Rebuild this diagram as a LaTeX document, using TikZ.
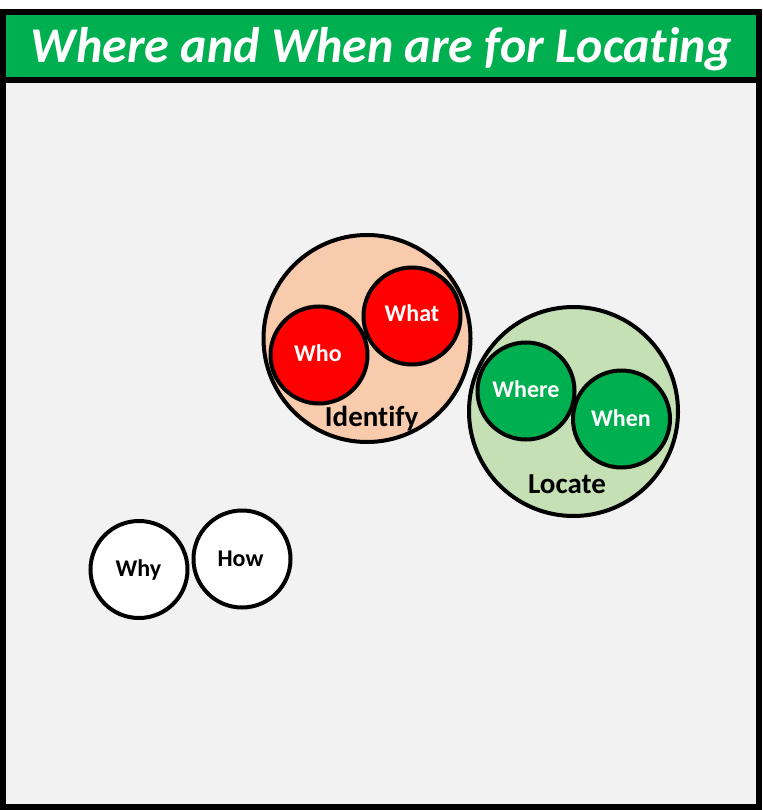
\documentclass[tikz,border=0pt]{standalone}
\usepackage{fontspec}
\setmainfont[Ligatures=NoCommon]{Carlito}
\definecolor{titlegreen}{HTML}{00B050}
\definecolor{bodygray}{HTML}{F2F2F2}
\definecolor{peach}{HTML}{F8CBAD}
\definecolor{lightgreen}{HTML}{C5E0B4}
\definecolor{qred}{HTML}{FF0000}
\tikzset{
  group/.style={circle, draw=black, line width=4pt, inner sep=0pt},
  qcircle/.style={circle, draw=black, line width=4pt, inner sep=0pt, minimum size=97pt},
  redq/.style={qcircle, fill=qred},
  greenq/.style={qcircle, fill=titlegreen},
  whiteq/.style={qcircle, fill=white},
  qlabel/.style={anchor=base, inner sep=0pt, font=\bfseries\fontsize{24}{26}\selectfont},
  grouplabel/.style={anchor=base, inner sep=0pt, font=\bfseries\fontsize{29}{32}\selectfont, text=black}
}
\begin{document}
\begin{tikzpicture}[x=1pt,y=-1pt]
\useasboundingbox (0,0) rectangle (762,810);
\fill[white] (0,0) rectangle (762,810);
\fill[black] (0,9) rectangle (762,810);
\fill[titlegreen] (6,15) rectangle (756,77);
\fill[bodygray] (6,83) rectangle (756,804);
\node[anchor=base, inner sep=0pt, text=white, font=\bfseries\itshape\fontsize{50}{54}\selectfont] (title) at (381.5,63) {Where and When are for Locating};
% Identify group
\node[group, fill=peach, minimum size=207pt] (identify) at (367,338.5) {};
\node[redq] (who) at (319,355) {};
\node[redq] (what) at (412,316) {};
\node[qlabel, text=white] (wholabel) at (318,361.7) {Who};
\node[qlabel, text=white] (whatlabel) at (412,321.7) {What};
\node[grouplabel] (identifylabel) at (371.7,426) {Identify};
% Locate group
\node[group, fill=lightgreen, minimum size=209pt] (locate) at (573.5,411.5) {};
\node[greenq] (where) at (526,391) {};
\node[greenq] (when) at (621.5,419) {};
\node[qlabel, text=white] (wherelabel) at (526,397.7) {Where};
\node[qlabel, text=white] (whenlabel) at (621,426.7) {When};
\node[grouplabel] (locatelabel) at (567,493.3) {Locate};
% Why and How
\node[whiteq] (why) at (139,569.5) {};
\node[whiteq] (how) at (242,559) {};
\node[qlabel, text=black] (whylabel) at (138.5,576) {Why};
\node[qlabel, text=black] (howlabel) at (240.5,566.7) {How};
\end{tikzpicture}
\end{document}
